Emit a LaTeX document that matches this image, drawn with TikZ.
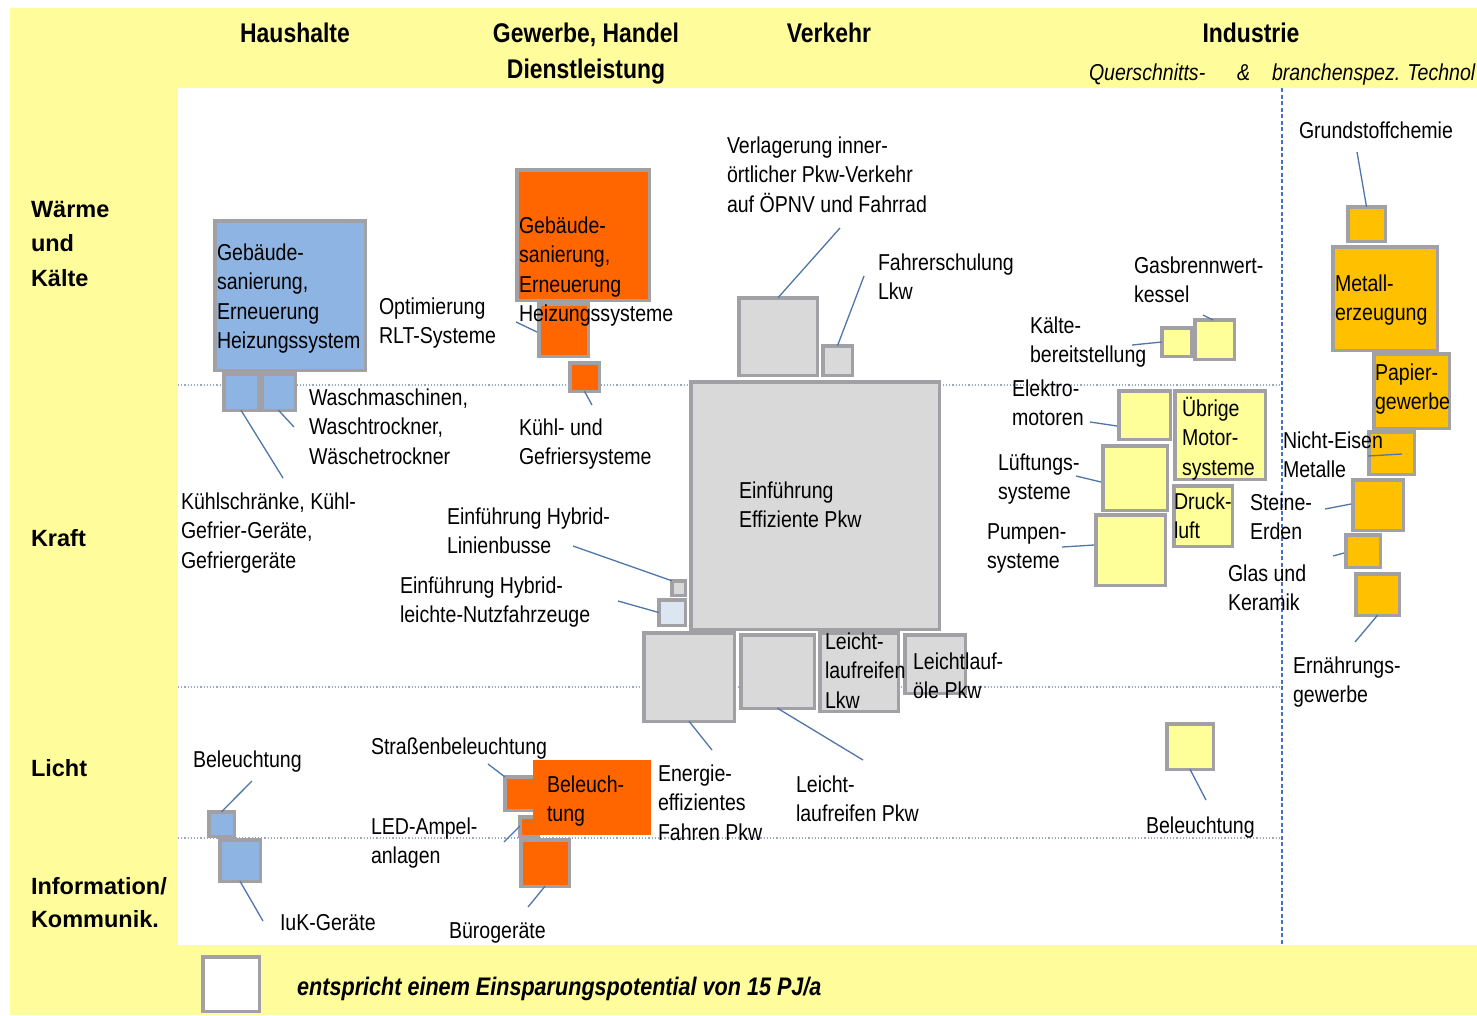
\documentclass[tikz,border=0pt]{standalone}
\usepackage{fontspec}
\setmainfont[FakeStretch=0.85]{Liberation Sans}
\newfontfamily\widesans{Liberation Sans}
\usetikzlibrary{fit,calc}
\definecolor{bgyel}{RGB}{255,253,155}
\definecolor{bxblue}{RGB}{141,180,226}
\definecolor{bxorange}{RGB}{255,102,0}
\definecolor{bxgray}{RGB}{217,217,217}
\definecolor{bxlyel}{RGB}{255,255,153}
\definecolor{bxgold}{RGB}{255,192,0}
\definecolor{bxbord}{RGB}{160,160,165}
\definecolor{leadc}{RGB}{79,118,168}
\definecolor{divc}{RGB}{150,170,195}
\definecolor{vdash}{RGB}{68,114,196}
\definecolor{hybl}{RGB}{220,230,242}
\newcommand\fsLab{\fontsize{23}{29.5}\selectfont}
\newcommand\fsHead{\fontsize{27}{36}\selectfont\bfseries}
\newcommand\fsSide{\widesans\fontsize{23.5}{34.5}\selectfont\bfseries}
\newcommand\fsLeg{\fontsize{25.4}{30}\selectfont\bfseries\itshape}
\newcommand\bxn[6]{\node[bx, fill=#2, fit={({#3+1.75},{#4+1.75}) ({#5-1.75},{#6-1.75})}] (#1) {};}
\begin{document}
\begin{tikzpicture}[x=1pt,y=-1pt,
  bx/.style={draw=bxbord, line width=3.5pt, inner sep=0pt, outer sep=0pt},
  lab/.style={anchor=base west, inner sep=0pt, outer sep=0pt, align=left, font=\fsLab},
  two/.style={lab, yshift=-29.5pt},
  three/.style={lab, yshift=-59pt},
  four/.style={lab, yshift=-88.5pt},
  head/.style={anchor=base, inner sep=0pt, outer sep=0pt, align=center, font=\fsHead},
  side/.style={anchor=base west, inner sep=0pt, outer sep=0pt, align=left, font=\fsSide},
  lead/.style={draw=leadc, line width=1.3pt},
  divider/.style={draw=divc, line width=1.2pt, dotted}]
\useasboundingbox (0,0) rectangle (1477,1015);
\fill[white] (0,0) rectangle (1477,1015);
\fill[bgyel] (10,8) rectangle (1477,1015);
\fill[white] (178,88) rectangle (1477,945);
% dividers
\draw[divider] (178,385) -- (1282,385);
\draw[divider] (178,687) -- (1282,687);
\draw[divider] (178,838) -- (1282,838);
\draw[draw=vdash, line width=1.3pt, dash pattern=on 4pt off 2.5pt] (1282,88) -- (1282,945);
% headers
\node[head] (hH) at (295,42) {Haushalte};
\node[head] (hG) at (586,78) {Gewerbe, Handel\\Dienstleistung};
\node[head] (hV) at (829,42) {Verkehr};
\node[head] (hI) at (1251,42) {Industrie};
\node[lab, font=\fsLab\itshape] (q1) at (1089,80) {Querschnitts-};
\node[lab, font=\fsLab\itshape] (q2) at (1237,80) {\&};
\node[lab, font=\fsLab\itshape] (q3) at (1272,80) {branchenspez. Technol};
% side labels
\node[side] (sW) at (31,286) {Wärme\\und\\Kälte};
\node[side] (sK) at (31,546) {Kraft};
\node[side] (sL) at (31,776) {Licht};
\node[side, font=\widesans\fontsize{23.5}{33}\selectfont\bfseries] (sI) at (31,927) {Information/\\Kommunik.};
% Haushalte boxes
\bxn{gebHb}{bxblue}{213}{219}{367}{372}
\bxn{waschL}{bxblue}{222}{372}{260}{412}
\bxn{waschR}{bxblue}{260}{372}{297}{412}
\bxn{belHb}{bxblue}{207}{810}{236}{838}
\bxn{iukb}{bxblue}{218}{838}{262}{883}
% Gewerbe boxes
\bxn{gebGb}{bxorange}{515}{168}{651}{302}
\bxn{rltb}{bxorange}{537}{302}{590}{358}
\bxn{kuehlGb}{bxorange}{568}{361}{601}{393}
\bxn{strb}{bxorange}{503}{775}{540}{812}
\bxn{ledb}{bxorange}{518}{815}{540}{838}
\bxn{buerob}{bxorange}{519}{838}{571}{888}
\node[fill=bxorange, inner sep=0pt, outer sep=0pt, fit={(533,760) (651,835)}] (belGb) {};
% Verkehr boxes
\bxn{effb}{bxgray}{689}{380}{941}{631}
\bxn{verlb}{bxgray}{737}{296}{819}{377}
\bxn{fahrb}{bxgray}{821}{344}{854}{377}
\bxn{hybLb}{bxgray}{670}{579}{687}{597}
\bxn{hybNb}{hybl}{657}{598}{687}{627}
\bxn{efffb}{bxgray}{642}{631}{736}{723}
\bxn{llpb}{bxgray}{739}{633}{816}{710}
\bxn{lllb}{bxgray}{818}{631}{900}{713}
\bxn{lloeb}{bxgray}{903}{633}{967}{695}
% Industrie Querschnitt
\bxn{gasb}{bxlyel}{1193}{318}{1236}{361}
\bxn{kaelb}{bxlyel}{1160}{326}{1193}{358}
\bxn{elb}{bxlyel}{1117}{389}{1172}{441}
\bxn{uebb}{bxlyel}{1173}{389}{1267}{481}
\bxn{lueb}{bxlyel}{1101}{444}{1169}{512}
\bxn{drb}{bxlyel}{1172}{484}{1234}{548}
\bxn{pub}{bxlyel}{1094}{513}{1167}{587}
\bxn{belIb}{bxlyel}{1165}{722}{1215}{771}
% Branchen
\bxn{grb}{bxgold}{1346}{205}{1387}{243}
\bxn{meb}{bxgold}{1331}{245}{1439}{352}
\bxn{pab}{bxgold}{1372}{352}{1451}{430}
\bxn{neb}{bxgold}{1367}{430}{1416}{476}
\bxn{stb}{bxgold}{1351}{478}{1405}{532}
\bxn{glb}{bxgold}{1344}{533}{1382}{569}
\bxn{erb}{bxgold}{1354}{572}{1401}{617}
% legend
\bxn{legb}{white}{201}{955}{261}{1013}
\node[anchor=base west, inner sep=0pt, font=\fsLeg] (legt) at (297,995) {entspricht einem Einsparungspotential von 15 PJ/a};
% labels (coordinates give the baseline of the first line)
\node[four] (gebH) at (217,260) {Gebäude-\\sanierung,\\Erneuerung\\Heizungssystem};
\node[three] (wasch) at (309,405) {Waschmaschinen,\\Waschtrockner,\\Wäschetrockner};
\node[three] (kuehlH) at (181,509) {Kühlschränke, Kühl-\\Gefrier-Geräte,\\Gefriergeräte};
\node[two] (rlt) at (379,314) {Optimierung\\RLT-Systeme};
\node[four] (gebG) at (519,233) {Gebäude-\\sanierung,\\Erneuerung\\Heizungssysteme};
\node[two] (kuehlG) at (519,435) {Kühl- und\\Gefriersysteme};
\node[three] (verl) at (727,153) {Verlagerung inner-\\örtlicher Pkw-Verkehr\\auf ÖPNV und Fahrrad};
\node[two] (fahr) at (878,270) {Fahrerschulung\\Lkw};
\node[two] (effpkw) at (739,498) {Einführung\\Effiziente Pkw};
\node[two] (hybL) at (447,524) {Einführung Hybrid-\\Linienbusse};
\node[two] (hybN) at (400,593) {Einführung Hybrid-\\leichte-Nutzfahrzeuge};
\node[three] (llLkw) at (825,649) {Leicht-\\laufreifen\\Lkw};
\node[two] (llOel) at (913,669) {Leichtlauf-\\öle Pkw};
\node[three] (efff) at (658,781) {Energie-\\effizientes\\Fahren Pkw};
\node[two] (llPkw) at (796,792) {Leicht-\\laufreifen Pkw};
\node[lab] (belH) at (193,767) {Beleuchtung};
\node[lab] (iuk) at (280,930) {IuK-Geräte};
\node[lab] (strass) at (371,754) {Straßenbeleuchtung};
\node[two] (led) at (371,834) {LED-Ampel-\\anlagen};
\node[lab] (buero) at (449,938) {Bürogeräte};
\node[two] (belG) at (547,792) {Beleuch-\\tung};
\node[two] (gas) at (1134,273) {Gasbrennwert-\\kessel};
\node[two] (kaelte) at (1030,333) {Kälte-\\bereitstellung};
\node[two] (elektro) at (1012,396) {Elektro-\\motoren};
\node[three] (uebr) at (1182,416) {Übrige\\Motor-\\systeme};
\node[two] (lueft) at (998,470) {Lüftungs-\\systeme};
\node[two] (druck) at (1174,509) {Druck-\\luft};
\node[two] (pumpen) at (987,539) {Pumpen-\\systeme};
\node[lab] (belI) at (1146,833) {Beleuchtung};
\node[lab] (grund) at (1299,138) {Grundstoffchemie};
\node[two] (metall) at (1335,291) {Metall-\\erzeugung};
\node[two] (papier) at (1375,380) {Papier-\\gewerbe};
\node[two] (ne) at (1283,448) {Nicht-Eisen\\Metalle};
\node[two] (steine) at (1250,510) {Steine-\\Erden};
\node[two] (glas) at (1228,581) {Glas und\\Keramik};
\node[two] (ern) at (1293,673) {Ernährungs-\\gewerbe};
% leader end points
\coordinate (pKuehlH) at (283,478);
\coordinate (pWasch) at (294,427);
\coordinate (pRlt) at (516,322);
\coordinate (pRltB) at (537,332);
\coordinate (pKuehlG) at (592,405);
\coordinate (pVerl) at (840,228);
\coordinate (pFahr) at (864,276);
\coordinate (pHybL) at (573,546);
\coordinate (pHybN) at (618,601);
\coordinate (pEfff) at (712,750);
\coordinate (pLlPkw) at (863,760);
\coordinate (pStr) at (488,764);
\coordinate (pLed) at (504,842);
\coordinate (pLedB) at (520,826);
\coordinate (pBuero) at (528,907);
\coordinate (pBelH) at (252,781);
\coordinate (pIuk) at (263,921);
\coordinate (pGas) at (1203,315);
\coordinate (pGasB) at (1213,320);
\coordinate (pKaelte) at (1132,345);
\coordinate (pElektro) at (1090,422);
\coordinate (pElektroB) at (1117,426);
\coordinate (pLueft) at (1076,476);
\coordinate (pLueftB) at (1101,482);
\coordinate (pPumpen) at (1062,547);
\coordinate (pPumpenB) at (1094,545);
\coordinate (pBelI) at (1206,800);
\coordinate (pGrund) at (1357,152);
\coordinate (pNe) at (1368,456);
\coordinate (pNeB) at (1402,454);
\coordinate (pSteine) at (1325,509);
\coordinate (pSteineB) at (1351,504);
\coordinate (pGlas) at (1333,556);
\coordinate (pGlasB) at (1344,553);
\coordinate (pErn) at (1355,642);
% leaders
\draw[lead] (waschL.south) -- (pKuehlH);
\draw[lead] (waschR.south) -- (pWasch);
\draw[lead] (pRlt) -- (pRltB);
\draw[lead] (kuehlGb.south) -- (pKuehlG);
\draw[lead] (verlb.north) -- (pVerl);
\draw[lead] (fahrb.north) -- (pFahr);
\draw[lead] (pHybL) -- (hybLb.north west);
\draw[lead] (pHybN) -- (hybNb.west);
\draw[lead] (efffb.south) -- (pEfff);
\draw[lead] (llpb.south) -- (pLlPkw);
\draw[lead] (pStr) -- (strb.north west);
\draw[lead] (pLed) -- (pLedB);
\draw[lead] (pBuero) -- (buerob.south);
\draw[lead] (pBelH) -- (belHb.north);
\draw[lead] (pIuk) -- (iukb.south);
\draw[lead] (pGas) -- (pGasB);
\draw[lead] (pKaelte) -- (kaelb.west);
\draw[lead] (pElektro) -- (pElektroB);
\draw[lead] (pLueft) -- (pLueftB);
\draw[lead] (pPumpen) -- (pPumpenB);
\draw[lead] (belIb.south) -- (pBelI);
\draw[lead] (pGrund) -- (grb.north);
\draw[lead] (pNe) -- (pNeB);
\draw[lead] (pSteine) -- (pSteineB);
\draw[lead] (pGlas) -- (pGlasB);
\draw[lead] (erb.south) -- (pErn);
\end{tikzpicture}
\end{document}
